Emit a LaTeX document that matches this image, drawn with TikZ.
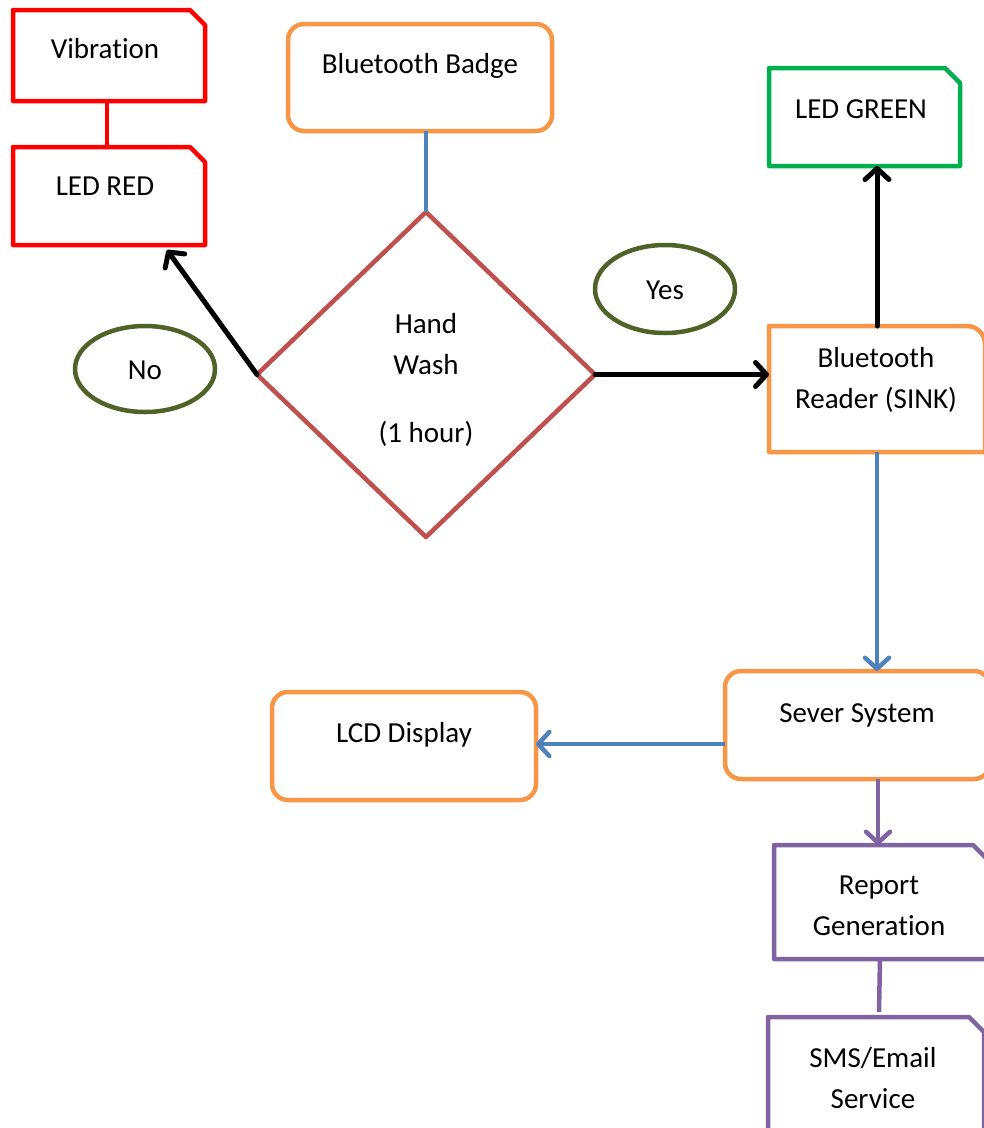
\documentclass[tikz,border=0pt]{standalone}
\usepackage{fontspec}
\setmainfont{Carlito}[Ligatures=NoCommon]
\usetikzlibrary{arrows.meta,shapes.geometric}
\definecolor{cRed}{HTML}{FF0000}
\definecolor{cOrange}{HTML}{F79646}
\definecolor{cBlue}{HTML}{4F81BD}
\definecolor{cBrick}{HTML}{C0504D}
\definecolor{cOlive}{HTML}{4F6228}
\definecolor{cGreen}{HTML}{00B050}
\definecolor{cPurple}{HTML}{8064A2}
% outline of a box whose top right corner is cut off
\newcommand\snipframe[2]{%
  \draw[#2] (#1.south west) -- (#1.north west) -- ([xshift=-15pt]#1.north east)
    -- ([yshift=-15pt]#1.north east) -- (#1.south east) -- cycle;}
\begin{document}
\begin{tikzpicture}[x=1pt,y=-1pt,line width=4.5pt,line join=round,
  lbl/.style={font=\fontsize{29}{41}\selectfont,align=center,inner sep=0pt},
  one/.style={lbl,text height=0.7em,text depth=0.2em},
  plainbox/.style={rectangle,inner sep=0pt,outer sep=0pt},
  roundbox/.style={rectangle,rounded corners=16pt,draw=cOrange,inner sep=0pt,outer sep=0pt},
  oval/.style={ellipse,draw=cOlive,inner sep=0pt,minimum width=140pt},
  arr/.style={line width=5pt,line cap=round,
    -{Straight Barb[length=11pt,width=24pt,line cap=round,line join=round]}},
  thinarr/.style={line width=4.5pt,
    -{Straight Barb[length=11pt,width=24pt,line cap=round,line join=round]}}
]
\useasboundingbox (0,0) rectangle (984,1128);
\clip (0,0) rectangle (984,1128);

% alarm outputs
\node[plainbox,minimum width=192pt,minimum height=91pt] (vib) at (109,55.5) {};
\node[plainbox,minimum width=192pt,minimum height=98pt] (ledred) at (109,196) {};
\snipframe{vib}{cRed}
\snipframe{ledred}{cRed}
\node[one] (vibT) at (105,56) {Vibration};
\node[one] (ledredT) at (105,193) {LED RED};
\draw[cRed] (vib.south -| 107,0) -- (ledred.north -| 107,0);

% badge and decision
\node[roundbox,minimum width=264pt,minimum height=107pt] (badge) at (420,77.5) {};
\node[one] (badgeT) at (420,71) {Bluetooth Badge};
\node[diamond,draw=cBrick,inner sep=0pt,outer sep=0pt,minimum width=338pt,minimum height=325pt] (wash) at (426,374.5) {};
\node[lbl] (washT) at (426,380) {Hand\\Wash\\[27pt](1 hour)};
\draw[cBlue] (wash.north |- badge.south) -- (wash.north);

% answers
\node[oval,minimum height=86pt] (no) at (145,369) {};
\node[one] (noT) at (145,377) {No};
\node[oval,minimum height=88pt] (yes) at (665,289) {};
\node[one] (yesT) at (665,297) {Yes};

\coordinate (redtip) at ([xshift=-38pt,yshift=-5pt]ledred.south east);
\draw[arr] (wash.west) -- (redtip);

% reader and green LED
\node[plainbox,minimum width=216pt,minimum height=126pt] (reader) at (877,389) {};
\draw[cOrange] (reader.south west) -- (reader.north west)
  [rounded corners=18pt] -- (reader.north east) [sharp corners] -- (reader.south east) -- cycle;
\node[lbl] (readerT) at (876,380) {Bluetooth\\Reader (SINK)};
\node[plainbox,minimum width=191pt,minimum height=98pt] (green) at (864.5,117) {};
\snipframe{green}{cGreen}
\node[one] (greenT) at (861,116) {LED GREEN};
\draw[arr] (wash.east) -- (wash.east -| reader.west);
\draw[arr] (reader.north -| 877,0) -- (green.south -| 877,0);

% server side
\node[roundbox,minimum width=265pt,minimum height=108pt] (server) at (857.5,725) {};
\node[one] (serverT) at (857,720) {Sever System};
\node[roundbox,minimum width=264pt,minimum height=108pt] (lcd) at (404,746) {};
\node[one] (lcdT) at (404,740) {LCD Display};
\draw[thinarr,cBlue] (reader.south -| 877,0) -- (server.north -| 877,0);
\draw[thinarr,cBlue] (server.west |- 0,744) -- (lcd.east |- 0,744);

% reporting
\node[plainbox,minimum width=214pt,minimum height=114pt] (report) at (881,902) {};
\snipframe{report}{cPurple}
\node[lbl] (reportT) at (879,906) {Report\\Generation};
\node[plainbox,minimum width=216pt,minimum height=133pt] (sms) at (876,1083.5) {};
\snipframe{sms}{cPurple}
\node[lbl] (smsT) at (873,1078) {SMS/Email\\Service};
\draw[thinarr,cPurple] (server.south -| 878,0) -- (report.north -| 878,0);
\draw[cPurple] (report.south -| 880,0) -- ([yshift=5pt]sms.north -| 879,0);
\end{tikzpicture}
\end{document}
